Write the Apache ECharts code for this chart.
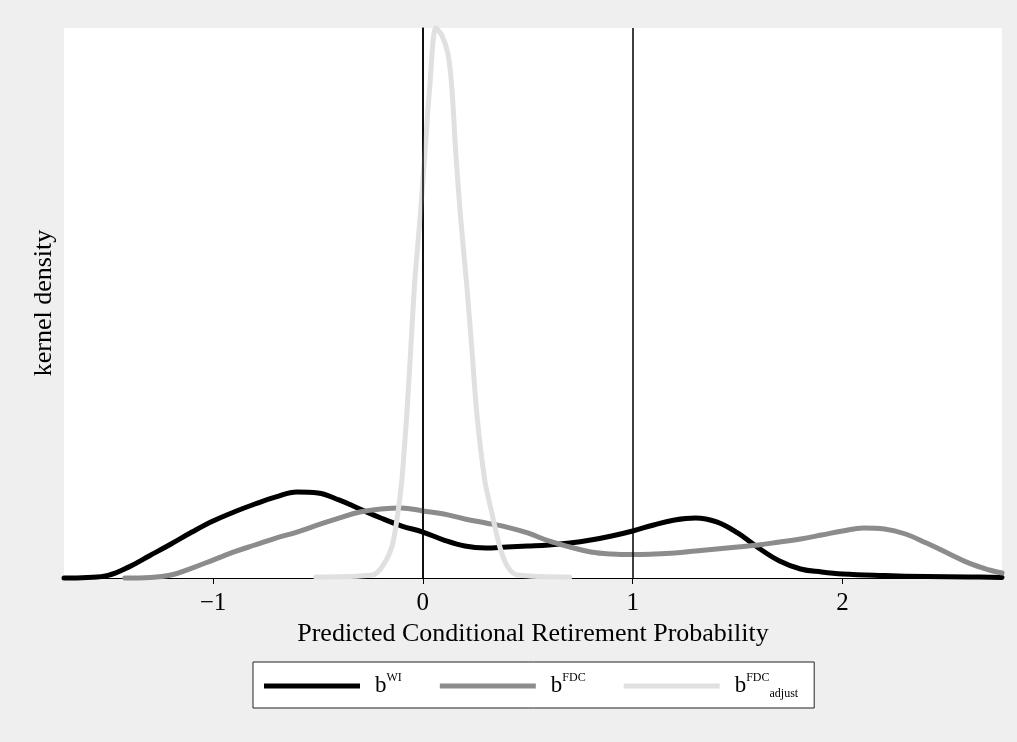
<!DOCTYPE html>
<html>
<head>
<meta charset="utf-8">
<script src="https://cdn.jsdelivr.net/npm/echarts@6/dist/echarts.min.js"></script>
<style>
	html, body { margin: 0; padding: 0; background: #efefef; }
	#chart { width: 1017px; height: 742px; }
</style>
</head>
<body>
<div id="chart"></div>
<script>
	// kernel density estimates
	var wiX = [-1.71, -1.6, -1.5, -1.4, -1.3, -1.2, -1.1, -1.0, -0.9, -0.8, -0.7, -0.6, -0.5, -0.4, -0.3, -0.2, -0.1, 0.0,
		0.1, 0.2, 0.3, 0.4, 0.5, 0.6, 0.7, 0.8, 0.9, 1.0, 1.1, 1.2, 1.3, 1.4, 1.5, 1.6, 1.7, 1.8, 1.9, 2.0, 2.2, 2.4, 2.6, 2.76]
	var wiY = [0, 0.004, 0.020, 0.085, 0.172, 0.260, 0.351, 0.435, 0.504, 0.565, 0.619, 0.657, 0.649, 0.596, 0.527, 0.458,
		0.397, 0.351, 0.290, 0.244, 0.229, 0.237, 0.244, 0.252, 0.267, 0.290, 0.321, 0.359, 0.405, 0.443, 0.458, 0.428,
		0.344, 0.229, 0.130, 0.069, 0.046, 0.031, 0.019, 0.011, 0.008, 0.004]

	var fdcX = [-1.42, -1.3, -1.2, -1.1, -1.0, -0.9, -0.8, -0.7, -0.6, -0.5, -0.4, -0.3, -0.2, -0.1, 0.0, 0.1, 0.2, 0.3,
		0.4, 0.5, 0.6, 0.7, 0.8, 0.9, 1.0, 1.1, 1.2, 1.3, 1.4, 1.5, 1.6, 1.7, 1.8, 1.9, 2.0, 2.1, 2.2, 2.3, 2.4, 2.5, 2.6,
		2.7, 2.76]
	var fdcY = [0, 0.004, 0.023, 0.076, 0.137, 0.199, 0.252, 0.305, 0.351, 0.405, 0.458, 0.504, 0.527, 0.535, 0.512,
		0.489, 0.451, 0.420, 0.389, 0.344, 0.283, 0.237, 0.199, 0.183, 0.179, 0.183, 0.191, 0.206, 0.221, 0.237, 0.252,
		0.275, 0.298, 0.328, 0.359, 0.382, 0.374, 0.336, 0.267, 0.191, 0.115, 0.061, 0.038]

	var adjX = [-0.51, -0.24, -0.195, -0.148, -0.119, -0.100, -0.076, -0.057, -0.038, -0.014, 0.010, 0.033, 0.062, 0.090,
		0.119, 0.138, 0.157, 0.181, 0.210, 0.233, 0.257, 0.295, 0.329, 0.367, 0.405, 0.452, 0.70]
	var adjY = [0.008, 0.023, 0.084, 0.237, 0.496, 0.748, 1.260, 1.764, 2.276, 2.734, 3.245, 3.749, 4.2, 4.146, 4.009,
		3.749, 3.245, 2.734, 2.222, 1.764, 1.260, 0.748, 0.496, 0.237, 0.084, 0.023, 0.008]

	var xTicks = [-1, 0, 1, 2]
	var refLines = [0, 1]
	var seriesNames = ['b^WI', 'b^FDC', 'b^FDC_adjust']

	function pairs(xs, ys) {
		return xs.map(function(x, i) { return [x, ys[i]] })
	}

	var serif = "'Liberation Serif', 'DejaVu Serif', serif"
	var chart = echarts.init(document.getElementById('chart'))

	var option = {
		backgroundColor: '#efefef',
		animation: false,
		textStyle: { fontFamily: serif, color: '#000' },
		grid: {
			left: 64,
			right: 15,
			top: 28,
			bottom: 164,
			show: true,
			backgroundColor: '#fff',
			borderWidth: 0
		},
		legend: {
			left: 253,
			top: 662,
			data: seriesNames,
			icon: 'rect',
			itemWidth: 96,
			itemHeight: 5,
			itemGap: 38,
			padding: [10, 16, 8, 11],
			backgroundColor: '#fff',
			borderColor: '#222',
			borderWidth: 1,
			borderRadius: 0,
			selectedMode: false,
			formatter: function(name) {
				if (name === 'b^WI') return '{b|b}{sup|WI}'
				if (name === 'b^FDC') return '{b|b}{sup|FDC}'
				return '{b|b}{sup|FDC}{sub|adjust}'
			},
			textStyle: {
				padding: [0, 0, 0, 10],
				rich: {
					b: { fontFamily: serif, fontSize: 23, lineHeight: 28, color: '#000' },
					sup: { fontFamily: serif, fontSize: 12, lineHeight: 14, verticalAlign: 'top', color: '#000' },
					sub: { fontFamily: serif, fontSize: 12, lineHeight: 14, verticalAlign: 'bottom', color: '#000' }
				}
			}
		},
		xAxis: {
			type: 'value',
			min: -1.71,
			max: 2.76,
			name: 'Predicted Conditional Retirement Probability',
			nameLocation: 'middle',
			nameGap: 40,
			nameTextStyle: { fontFamily: serif, fontSize: 26, color: '#000' },
			axisLine: { show: true, onZero: false, lineStyle: { color: '#000', width: 1 } },
			axisTick: { show: true, length: 6, customValues: xTicks, lineStyle: { color: '#000', width: 1 } },
			axisLabel: {
				customValues: xTicks,
				margin: 13,
				fontFamily: serif,
				fontSize: 25,
				color: '#000',
				formatter: function(v) { return String(v).replace('-', '\u2212') }
			},
			splitLine: { show: false }
		},
		yAxis: {
			type: 'value',
			min: 0,
			max: 4.2,
			name: 'kernel density',
			nameLocation: 'middle',
			nameGap: 7,
			nameTextStyle: { fontFamily: serif, fontSize: 26, color: '#000' },
			axisLine: { show: true, lineStyle: { color: '#000', width: 1.5 } },
			axisTick: { show: false },
			axisLabel: { show: false },
			splitLine: { show: false }
		},
		series: [
			{
				// vertical reference lines at 0 and 1
				name: 'ref',
				type: 'line',
				data: [],
				z: 1,
				markLine: {
					silent: true,
					symbol: 'none',
					label: { show: false },
					lineStyle: { color: '#000', width: 1.5, type: 'solid' },
					data: refLines.map(function(v) { return { xAxis: v } })
				}
			},
			{
				name: 'b^WI',
				type: 'line',
				z: 2,
				smooth: 0.4,
				showSymbol: false,
				clip: false,
				lineStyle: { color: '#000', width: 5, cap: 'round', join: 'round' },
				itemStyle: { color: '#000' },
				data: pairs(wiX, wiY)
			},
			{
				name: 'b^FDC',
				type: 'line',
				z: 3,
				smooth: 0.4,
				showSymbol: false,
				clip: false,
				lineStyle: { color: '#8c8c8c', width: 5, cap: 'round', join: 'round' },
				itemStyle: { color: '#8c8c8c' },
				data: pairs(fdcX, fdcY)
			},
			{
				name: 'b^FDC_adjust',
				type: 'line',
				z: 4,
				smooth: 0.3,
				showSymbol: false,
				clip: false,
				lineStyle: { color: '#e0e0e0', width: 5, cap: 'round', join: 'round' },
				itemStyle: { color: '#e0e0e0' },
				data: pairs(adjX, adjY)
			}
		]
	}
	chart.setOption(option)
</script>
</body>
</html>
